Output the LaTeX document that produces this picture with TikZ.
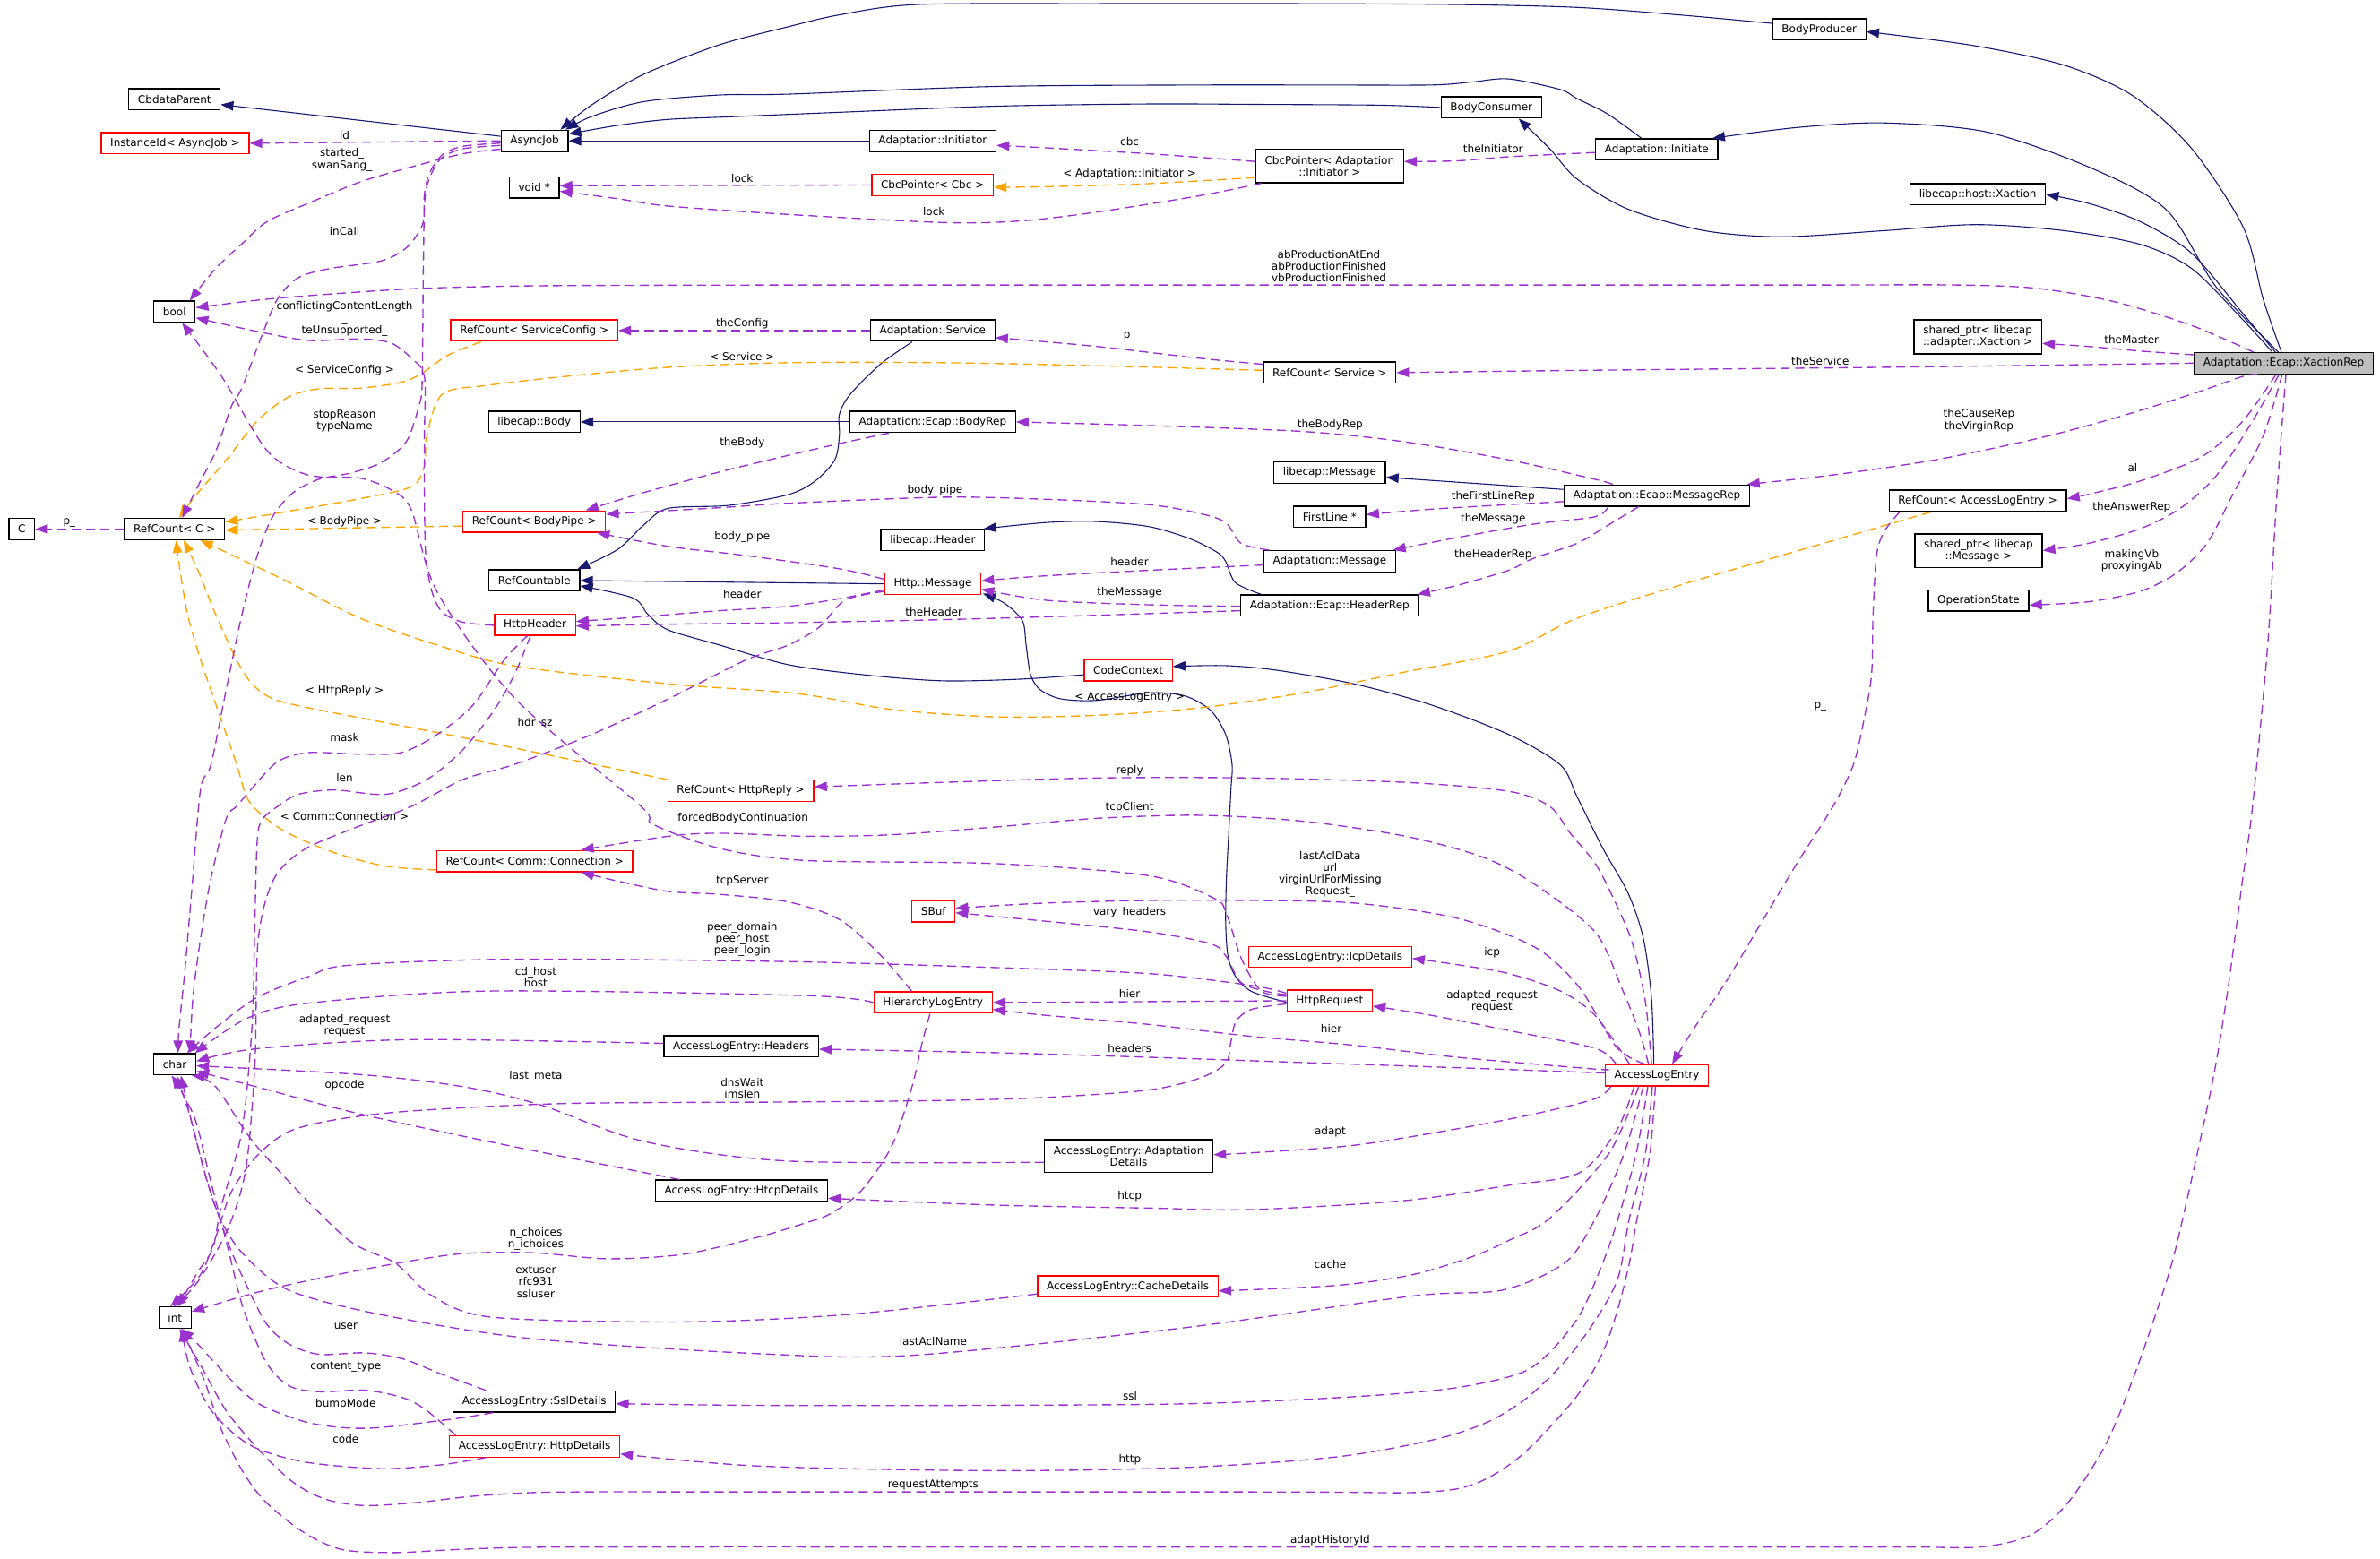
\documentclass[tikz,border=0pt]{standalone}
\usepackage{fontspec}
\setmainfont{DejaVu Sans}
\usetikzlibrary{arrows.meta}
\definecolor{navy}{HTML}{191970}
\definecolor{orchid}{HTML}{9A32CD}
\definecolor{tplorange}{HTML}{FFA500}
\definecolor{nodegray}{HTML}{BFBFBF}
\newcommand{\dxfont}{\fontsize{7.1}{7.8}\selectfont}
\tikzset{
  box/.style={draw=black, line width=0.75pt, fill=white, font=\dxfont, inner xsep=6pt, inner ysep=0pt, minimum height=14pt, align=center},
  rbox/.style={box, draw=red},
  gbox/.style={box, fill=nodegray},
  lbl/.style={font=\dxfont, inner sep=0pt, align=center},
  tipx/.style={-{Triangle[length=8.3pt,width=6.2pt]}},
  inhe/.style={draw=navy, line width=0.65pt, tipx},
  usg/.style={draw=orchid, line width=0.8pt, dash pattern=on 6pt off 3.5pt, tipx},
  tmpl/.style={draw=tplorange, line width=0.8pt, dash pattern=on 6pt off 3.5pt, tipx},
}
\begin{document}
\begin{tikzpicture}[x=1pt,y=-1pt]
\fill[white] (0,0) rectangle (1568,1027);
\useasboundingbox (0,0) rectangle (1568,1027);

% ---------------- nodes ----------------
\node[box] (BP) at (1198.6,19.4) {BodyProducer};
\node[box] (CDP) at (115,65.4) {CbdataParent};
\node[box] (AJ) at (352.2,92.8) {AsyncJob};
\node[rbox] (IID) at (115.4,94.4) {InstanceId< AsyncJob >};
\node[box] (BC) at (982.5,70.8) {BodyConsumer};
\node[box] (AIR) at (614.5,92.8) {Adaptation::Initiator};
\node[box] (AIE) at (1091.5,98.5) {Adaptation::Initiate};
\node[box,minimum height=22pt] (CPI) at (876,109.4) {CbcPointer< Adaptation\\::Initiator >};
\node[box] (VOID) at (352,123.4) {void *};
\node[rbox] (CPC) at (614.4,121.9) {CbcPointer< Cbc >};
\node[box] (LHX) at (1303,128.1) {libecap::host::Xaction};
\node[box] (BOOL) at (115,205.4) {bool};
\node[box,minimum height=22.5pt] (SPX) at (1303,222) {shared\_ptr< libecap\\::adapter::Xaction >};
\node[gbox] (XR) at (1504.5,239.3) {Adaptation::Ecap::XactionRep};
\node[rbox] (RSC) at (352,217.8) {RefCount< ServiceConfig >};
\node[box] (SVC) at (614.5,217.8) {Adaptation::Service};
\node[box] (RS) at (876,245.5) {RefCount< Service >};
\node[box] (LB) at (352,278) {libecap::Body};
\node[box] (BR) at (614.5,278) {Adaptation::Ecap::BodyRep};
\node[box] (LM) at (876,311.5) {libecap::Message};
\node[box] (MR) at (1091.5,326.5) {Adaptation::Ecap::MessageRep};
\node[box] (RALE) at (1303,330) {RefCount< AccessLogEntry >};
\node[box] (FL) at (876,340.6) {FirstLine *};
\node[box] (C) at (14.4,348.6) {C};
\node[box] (RC) at (115,348.6) {RefCount< C >};
\node[rbox] (RBP) at (352,343.6) {RefCount< BodyPipe >};
\node[box] (LH) at (614.5,355.8) {libecap::Header};
\node[box,minimum height=22pt] (SPM) at (1303.5,362.8) {shared\_ptr< libecap\\::Message >};
\node[box] (AM) at (876,369.8) {Adaptation::Message};
\node[box] (RCT) at (352,382.5) {RefCountable};
\node[rbox] (HM) at (614.6,384.7) {Http::Message};
\node[box] (OS) at (1303.5,395.7) {OperationState};
\node[rbox] (HH) at (352.5,411.5) {HttpHeader};
\node[box] (HREP) at (876,399) {Adaptation::Ecap::HeaderRep};
\node[rbox] (CC) at (743.3,441.6) {CodeContext};
\node[rbox] (RHR) at (488,521) {RefCount< HttpReply >};
\node[rbox] (RCC) at (352.3,567.4) {RefCount< Comm::Connection >};
\node[rbox] (SB) at (615,600.4) {SBuf};
\node[rbox] (ICP) at (876.3,630.5) {AccessLogEntry::IcpDetails};
\node[rbox] (HLE) at (614.7,660.6) {HierarchyLogEntry};
\node[rbox] (HRQ) at (876,659.4) {HttpRequest};
\node[box] (CH) at (115.2,701.3) {char};
\node[box] (HDS) at (488.3,689.5) {AccessLogEntry::Headers};
\node[rbox] (ALE) at (1091.6,708.5) {AccessLogEntry};
\node[box,minimum height=21.7pt] (AD) at (743.6,761.8) {AccessLogEntry::Adaptation\\Details};
\node[box] (HTCP) at (488.5,784.5) {AccessLogEntry::HtcpDetails};
\node[rbox] (CD) at (743,847.6) {AccessLogEntry::CacheDetails};
\node[box] (INT) at (115.3,868.2) {int};
\node[box] (SSL) at (352,923.4) {AccessLogEntry::SslDetails};
\node[rbox] (HD) at (352.2,953) {AccessLogEntry::HttpDetails};

% ---------------- inheritance ----------------
\draw[inhe] plot[smooth] coordinates {([xshift=-1.5pt]XR.north) (1491,197) (1478,150) (1444,98) (1405,63) (1360,43) (1300,30) ([yshift=-1.5pt]BP.east)};
\draw[inhe] plot[smooth] coordinates {([xshift=-3.5pt]XR.north) (1460,189) (1427,138) (1376,110) (1309,87) (1241,81) (1184,84) ([xshift=-4pt]AIE.north east)};
\draw[inhe] plot[smooth] coordinates {([xshift=-5.5pt]XR.north) (1478,207) (1444,167) (1410,146) (1376,134) (LHX.east)};
\draw[inhe] plot[smooth] coordinates {([xshift=-7.5pt]XR.north) (1477,210) (1444,177) (1410,161) (1360,152) (1302,148) (1241,152) (1174,156) (1123,152) (1073,138) (1039,118) (1021,98) ([xshift=18pt]BC.south)};
\draw[inhe] plot[smooth] coordinates {([yshift=4pt]BP.west) (1106,9.8) (1039,4.9) (960,3) (858,2.4) (722,2.4) (604,3) (553,9.8) (519,17.7) (474,29.5) (424,49) (390,69) ([xshift=17pt]AJ.north)};
\draw[inhe] plot[smooth] coordinates {([xshift=-10pt]AIE.north) (1059,75) (1039,65) (1028,59) (994,52) (970,54) (943,56) (870,56) (790,56) (655,57) (520,62) (474,62.6) (424,67) (390,76.7) ([xshift=-2pt]AJ.north east)};
\draw[inhe] plot[smooth] coordinates {(BC.west) (909,69.3) (830,68.8) (757,68.5) (655,70) (553,74) (480,77) (440,78.7) (407,82.6) ([yshift=4.5pt]AJ.east)};
\draw[inhe] (AIR.west) -- (AJ.east);
\draw[inhe] ([yshift=3pt]AJ.west) -- ([yshift=-3.5pt]CDP.east);
\draw[inhe] (BR.west) -- (LB.east);
\draw[inhe] plot[smooth] coordinates {([xshift=-13.5pt]SVC.south) (580,240) (560,260) (553,273) (553,287) (550,303) (537,317) (519,326) (480,333) (440,335) (424,346) (407,362) ([xshift=-2pt]RCT.north east)};
\draw[inhe] (HM.west) -- (RCT.east);
\draw[inhe] plot[smooth] coordinates {([yshift=-3pt]CC.west) (672,447.5) (621,448.6) (570,444.7) (519.5,438) (474,425) (440,415) (427,405) (417,394) ([yshift=-3.5pt]RCT.east)};
\draw[inhe] ([yshift=4pt]MR.west) -- ([yshift=-3pt]LM.east);
\draw[inhe] plot[smooth] coordinates {([xshift=-45pt]HREP.north) (814,384) (807.5,370) (802,364) (784,355) (757,347) (722,343.6) (689,344.3) ([xshift=-1pt]LH.north east)};
\draw[inhe] plot[smooth] coordinates {([yshift=-1pt]HRQ.west) (824.6,653.3) (814,643.4) (809,630) (807.5,608) (808,578.5) (809.5,549) (811,519.5) (811.7,503.6) (807.5,484) (797.5,468) (780.4,458.5) (756.8,456.5) (722.6,461.5) (699,460.5) (685.4,454.5) (679,444.7) (676,425) (673.6,409) (661.8,397.5) ([xshift=1pt,yshift=1pt]HM.south east)};
\draw[inhe] plot[smooth] coordinates {([xshift=-2pt]ALE.north) (1088,657) (1082.6,618) (1072.6,588.5) (1056,559) (1039,525) (1028,504) (994,484) (943,464.5) (892,450.6) (841,441.6) (807.5,438.6) ([yshift=2.5pt]CC.east)};

% ---------------- template (orange) ----------------
\draw[tmpl] plot[smooth] coordinates {([yshift=-7.6pt]CPI.west) (756.7,121) (689,123) ([yshift=-1.5pt]CPC.east)};
\draw[tmpl] plot[smooth] coordinates {([xshift=-35pt]RSC.south) (294.8,234.2) (277.9,246) (264.3,251.9) (237.2,255.8) (210,256.2) (189.8,261.7) (169.4,277.5) (149.1,303) (128.8,326.6) ([xshift=3pt]RC.north)};
\draw[tmpl] plot[smooth] coordinates {([yshift=1.5pt]RS.west) (722.8,241) (621.1,239) (519.5,239) (440.5,242) (372.7,248) (321.9,253.8) (291.4,259.7) (281.2,287.3) (279.6,307) (271,320.7) (237.2,328.6) (186.4,337.5) ([yshift=4.6pt]RC.east)};
\draw[tmpl] ([yshift=-3pt]RBP.west) -- ([yshift=-0.7pt]RC.east);
\draw[tmpl] plot[smooth] coordinates {([xshift=-31pt]RALE.south) (1241.4,346.3) (1173.9,366) (1106.4,385.7) (1039,407.3) (993.9,429) (926,442.7) (858.3,456.5) (790.6,466.4) (722.8,471.3) (655,472.3) (587.3,467.4) (525,457) (440.5,450.6) (338.8,438.8) (288,425) (237.2,407.3) (186.4,381.7) ([xshift=17pt]RC.south)};
\draw[tmpl] plot[smooth] coordinates {(RHR.north west) (372.7,499.8) (305,486) (254.1,476.2) (203.3,466.4) (179.6,460.4) (166,450.6) (155.9,434.9) (142.3,405.4) (130.4,375.8) ([xshift=6pt]RC.south)};
\draw[tmpl] plot[smooth] coordinates {([yshift=-5.8pt]RCC.west) (254.1,570.7) (220.2,561.8) (189.8,549) (172.8,537.2) (162.6,525.4) (155.9,503.7) (142.3,464.4) (132.2,434.9) (123.7,405.4) (118.6,375.8) ([xshift=1pt]RC.south)};

% ---------------- usage (purple) ----------------
\draw[usg] (AJ.west) -- (IID.east);
\draw[usg] plot[smooth] coordinates {([yshift=-5.5pt]AJ.west) (305,101.3) (271,110) (237,120) (203,134) (176,146) (159,161) (142,177) ([xshift=10pt]BOOL.north)};
\draw[usg] plot[smooth] coordinates {([yshift=-1.5pt]AJ.west) (305,96.4) (291.4,102) (283,114) (279.6,128) (278.5,147.6) (267.7,163.3) (250.8,172) (216.9,177) (196.5,183) (183,196.7) (172.8,220.4) (159.3,255.8) (152.5,267.6) (142.3,297) (132.2,316.8) ([xshift=5pt]RC.north)};
\draw[usg] plot[smooth] coordinates {([yshift=-3pt]AJ.west) (305,98) (291,104) (284,115) (280,130) (279,170) (278.5,220) (278,255.8) (276,267.6) (267.7,291) (250.8,305) (230.5,311.8) (210,315.8) (193,324.7) (179.6,340.4) (169.5,366) (159.3,405.4) (149,454.5) (139,503.7) (132.2,519.5) (127,578.5) (122,637.5) (118,677) ([xshift=2pt]CH.north)};
\draw[usg] plot[smooth] coordinates {([yshift=-0.5pt]HH.west) (305,410) (291.4,403.4) (284.5,389.6) (280.5,366) (279.6,326.6) (279.6,287.3) (279.6,248) (271,236) (257.5,226) (237,223.3) (203.3,224.3) (169.4,218.4) ([yshift=-4pt]BOOL.east)};
\draw[usg] plot[smooth] coordinates {([xshift=-20pt]XR.north) (1444,214.5) (1393,198.8) (1342,190) (1290,187.8) (1200,187.8) (1100,187.8) (900,187.8) (700,187.8) (531,187.8) (420,188) (339,188.5) (271,190.3) (203.3,194.8) (169.4,197.8) ([yshift=2.7pt]BOOL.east)};
\draw[usg] plot[smooth] coordinates {([yshift=5.5pt]XR.west) (1410,231.3) (1376,228.3) ([yshift=-4.3pt]SPX.east)};
\draw[usg] plot[smooth] coordinates {(XR.west) (1241.6,242) (1045,244) (RS.east)};
\draw[usg] plot[smooth] coordinates {([xshift=-17pt]XR.south) (1477.6,248) (1444,259.7) (1393,275.5) (1342,289) (1275,303) (1208,312.9) ([xshift=-2pt]MR.north east)};
\draw[usg] plot[smooth] coordinates {([xshift=-5pt]XR.south) (1477.6,277.5) (1450.4,301) (1410.3,316.8) (1376,325.7) ([yshift=1.4pt]RALE.east)};
\draw[usg] plot[smooth] coordinates {([xshift=-3pt]XR.south) (1484,277.5) (1460.5,313) (1437,334.5) (1410.3,348.3) (1376,358) (SPM.east)};
\draw[usg] plot[smooth] coordinates {([xshift=-1pt]XR.south) (1491,287.3) (1470.6,326.6) (1454,358) (1433.6,377.8) (1410,389.6) (1376,396.5) ([yshift=-3pt]OS.east)};
\draw[usg] plot[smooth] coordinates {([xshift=1.5pt]XR.south) (1500,326.6) (1494,425) (1484,531.3) (1477.6,578.5) (1467,657) (1457,716) (1438,803) (1428,842) (1408,901) (1388,950.4) (1362.5,990) (1337.6,1011.5) (1305,1019.3) (1260,1019.3) (1180,1019.3) (1050,1019.3) (900,1019.3) (750,1019.3) (600,1019.3) (450,1019.3) (350,1019.5) (300.4,1021) (260.3,1023) (225.3,1021) (200,1009.6) (175.2,989.8) (160.2,970) (145.2,940.5) (135.2,911) (125.2,887.4) ([xshift=5pt]INT.south)};
\draw[usg] plot[smooth] coordinates {([xshift=-1pt]ALE.south) (1087,760) (1078.5,803) (1073.5,832) (1066,862) (1056,891) (1041,917) (1021,940.5) (1000.6,960.4) (980,974) (960,981) (930,983.5) (880,983.2) (800,983) (700,983) (580,983) (460,983) (390,983) (350,983.5) (310,986) (275,990) (240,992) (215,988) (195,978) (175,960) (150,931) (133,901) ([xshift=3pt]INT.south)};
\draw[usg] plot[smooth] coordinates {([xshift=-3pt]ALE.south) (1084,760) (1073.4,803) (1066,842) (1051,870) (1031,897) (1006,921) (980,937) (945,948.5) (880,960) (779,967) (651,969) (500,966) ([yshift=-5pt]HD.east)};
\draw[usg] plot[smooth] coordinates {([xshift=-6pt]ALE.south) (1078,760) (1066,803) (1056,832) (1041,866) (1021,891) (1001,905) (955,915) (880,921) (779,925) (640,926) (500,926) ([yshift=-1.5pt]SSL.east)};
\draw[usg] plot[smooth] coordinates {([xshift=-9pt]ALE.south) (1070,760) (1051,803) (1031,832) (990,850) (930,854) (779,875) (601,893) (501,892) (350,882) (250,866) (190,850) (160,826) (145,803) (135.6,775.3) (125.4,736) ([xshift=4pt]CH.south)};
\draw[usg] plot[smooth] coordinates {([xshift=-12pt]ALE.south) (1060,760) (1020.7,803) (995.5,816.6) (970,828) (930,840) (880,847) ([yshift=-3pt]CD.east)};
\draw[usg] plot[smooth] coordinates {([xshift=-15pt]ALE.south) (1065,745) (1040,773) (994,781) (926,791) (824.4,797) (756.7,796) (655,794) ([yshift=-5pt]HTCP.east)};
\draw[usg] plot[smooth] coordinates {([xshift=4pt]ALE.south west) (1050.8,724) (1010.8,734) (959.8,743.8) (892.2,754.6) (824.4,759.6) ([yshift=1pt]AD.east)};
\draw[usg] plot[smooth] coordinates {([yshift=1.5pt]ALE.west) (960,703.5) (858.4,700.1) (756.7,696.6) (655,693.6) ([yshift=-1.8pt]HDS.east)};
\draw[usg] plot[smooth] coordinates {([yshift=4pt]ALE.west) (1050.8,704.4) (960,696.6) (892,688.7) (824,682.8) (757,675) (689,669) ([yshift=-4.5pt]HLE.east)};
\draw[usg] (HRQ.west) -- (HLE.east);
\draw[usg] plot[smooth] coordinates {([xshift=-27pt]ALE.north) (1050.8,690.7) (994,679) (943,669) ([yshift=-3.5pt]HRQ.east)};
\draw[usg] plot[smooth] coordinates {([xshift=-18pt]ALE.north) (1050.8,669) (1028,653) (994,641.5) (960,635.6) ([yshift=-1pt]ICP.east)};
\draw[usg] plot[smooth] coordinates {([xshift=-8pt]ALE.north) (1065,690) (1040,650) (1011,624) (960,605) (892,595) (824,593.3) (757,593.3) (689,595) ([yshift=2pt]SB.east)};
\draw[usg] plot[smooth] coordinates {([xshift=-5.5pt]ALE.north) (1080,680) (1068,650) (1050.8,614) (1010.8,582.5) (977,564.8) (926,551) (858.3,541.1) (790.6,537.2) (722.8,539.2) (655,545) (587.3,550) (531.3,551) (474.4,549) (440.5,551) ([xshift=30.6pt]RCC.north)};
\draw[usg] plot[smooth] coordinates {([xshift=-3.5pt]ALE.north) (1084,660) (1075,620) (1062,590) (1050.8,568.7) (1034.5,549) (1021,531.3) (993.9,521.4) (926,515.5) (824.4,512.6) (722.8,512.6) (621.1,515.5) ([yshift=2.5pt]RHR.east)};
\draw[usg] plot[smooth] coordinates {([xshift=-51.5pt]RALE.south) (1241.3,350.3) (1236.3,366) (1234,405.4) (1233,444.7) (1228,474.2) (1221.1,503.7) (1207.6,531.3) (1184,568.7) (1160.4,608) (1136.8,647.4) (1116.5,676.9) ([xshift=10pt]ALE.north)};
\draw[usg] plot[smooth] coordinates {([xshift=-29pt]MR.north) (1050.8,315.8) (993.9,303) (926,291.2) (858.3,284.3) (756.7,280.4) (BR.east)};
\draw[usg] plot[smooth] coordinates {([yshift=-4pt]MR.west) (993.9,332.5) (943,335.5) ([yshift=1.5pt]FL.east)};
\draw[usg] plot[smooth] coordinates {([xshift=-32pt]MR.south) (1050.8,340.5) (1010.8,345.3) (960,354.2) ([xshift=-2pt]AM.north east)};
\draw[usg] plot[smooth] coordinates {([xshift=-12pt]MR.south) (1059,346.3) (1039,358) (1010,368) (993.9,375.8) (960,385.7) ([xshift=-1pt]HREP.north east)};
\draw[usg] plot[smooth] coordinates {([xshift=-40pt]AM.north) (817.6,358) (807.5,344.3) (790.6,338.4) (756.7,332.5) (689,329) (621.1,327.6) (519.5,331.6) (474.4,334.5) ([yshift=4.8pt]RBP.east)};
\draw[usg] plot[smooth] coordinates {([yshift=3pt]HM.west) (553,374.8) (491,366) (440,360) ([xshift=-6pt]RBP.south east)};
\draw[usg] plot[smooth] coordinates {([xshift=-29pt]BR.south) (553.4,292.2) (519.5,300) (474.4,310.9) (423.6,324.7) ([xshift=34pt]RBP.north)};
\draw[usg] plot[smooth] coordinates {([yshift=-4pt]HM.west) (553,394.5) (519.5,399.5) (474,402.4) (424,406.3) ([yshift=2pt]HH.east)};
\draw[usg] plot[smooth] coordinates {([yshift=-3.4pt]HREP.west) (722.8,405.4) (621.1,408.3) (519.5,410.3) (440.5,411.3) ([yshift=-1pt]HH.east)};
\draw[usg] plot[smooth] coordinates {([yshift=-0.5pt]HREP.west) (756.7,398.5) (689,395.5) ([yshift=-3.5pt]HM.east)};
\draw[usg] plot[smooth] coordinates {([yshift=-2.5pt]AM.west) (756.7,375.8) (689,379.4) ([yshift=2pt]HM.east)};
\draw[usg] plot[smooth] coordinates {([yshift=3pt]CPI.west) (756.7,101.3) (689,97.4) ([yshift=-3pt]AIR.east)};
\draw[usg] plot[smooth] coordinates {([xshift=-45pt]CPI.south) (790.6,128.9) (722.8,139.7) (672,145.6) (621.1,146.6) (519.5,141.3) (440.5,135.8) (406.7,130.9) ([yshift=-2.6pt]VOID.east)};
\draw[usg] (CPC.west) -- ([yshift=1pt]VOID.east);
\draw[usg] plot[smooth] coordinates {([yshift=-2pt]AIE.west) (993.9,103.3) (960,106) ([yshift=3pt]CPI.east)};
\draw[usg] (SVC.west) -- (RSC.east);
\draw[usg] plot[smooth] coordinates {([yshift=5.5pt]RS.west) (790.6,236.1) (722.8,228.3) ([yshift=-4.6pt]SVC.east)};
\draw[usg] (RC.west) -- (C.east);
\draw[usg] plot[smooth] coordinates {([xshift=-5pt]HH.south) (332.1,434.9) (311.8,464.4) (288,484) (264.3,495.9) (237.2,496.9) (203.3,495.9) (183,501.8) (166,519.5) (155.9,531.3) (149.1,539.2) (139,578.5) (132.2,617.9) (127.1,657.2) ([xshift=10pt]CH.north)};
\draw[usg] plot[smooth] coordinates {([xshift=-3pt]HH.south) (338.8,444.7) (325.3,468.3) (305,493.9) (281.2,513.6) (254.1,523.4) (220.3,520.5) (196.5,523.4) (183,531.3) (172.8,540) (169.4,555) (167.7,617.9) (166,677) (159.3,745.8) (145.7,795) (140.2,822.5) (130.2,838.3) ([xshift=2pt]INT.north)};
\draw[usg] plot[smooth] coordinates {([yshift=-5pt]HM.west) (556.7,395.5) (539.8,413.2) (519.5,425) (491.3,434.9) (440.5,460.4) (389.7,484) (338.8,503.7) (305,513.6) (271.1,531.3) (235,545) (200,560) (180,580) (170,620) (168,700) (162,770) (150,810) (130,845) ([xshift=-1pt]INT.north)};
\draw[usg] plot[smooth] coordinates {([xshift=-2pt]HLE.south) (607.6,686.7) (600.8,716.2) (587.3,755.6) (566.9,785.1) (546.6,800) (530,806) (500,815) (450.5,826.4) (400.5,829.4) (350.4,825.4) (300.4,826.4) (240.3,836.3) (175.2,850) ([yshift=4pt]INT.east)};
\draw[usg] plot[smooth] coordinates {([yshift=-5pt]CD.west) (560,866) (451,871) (325,868) (285,854) (260,832) (227,815) (169.4,755.6) (142.3,716.2) ([xshift=-3pt]CH.south east)};
\draw[usg] plot[smooth] coordinates {([xshift=-32pt]SSL.north) (290.3,905.2) (265.3,895.3) (240.3,891.4) (210.3,892.4) (190.2,885.5) (175.2,871.7) (160.2,842.2) (150.2,818.6) (135.6,775.3) (125.4,736) ([xshift=1pt]CH.south)};
\draw[usg] plot[smooth] coordinates {([xshift=-52pt]HD.north) (280.3,928.8) (265.3,920.9) (240.3,916) (210.3,917) (190.2,913) (175.2,897.3) (160.2,861.9) (150.2,822.5) (138,775) (128,736) ([xshift=-2pt]CH.south)};
\draw[usg] plot[smooth] coordinates {([xshift=-27pt]SSL.south) (300.4,934.7) (250.3,940.6) (225.3,940.6) (200.2,936.6) (170.2,924.8) (150.2,907.2) (130.2,885.5) ([xshift=4pt]INT.south)};
\draw[usg] plot[smooth] coordinates {([xshift=-32pt]HD.south) (290.3,965.2) (250.3,967.7) (200.2,963.2) (165.2,952.4) (140.2,930.7) (125.2,901.2) ([xshift=4.5pt]INT.south)};
\draw[usg] plot[smooth] coordinates {([xshift=-41pt]HTCP.north) (338.8,755.6) (237.2,734) (169.4,716.2) ([yshift=-4.5pt]CH.east)};
\draw[usg] plot[smooth] coordinates {([yshift=-4pt]AD.west) (519,765) (424,752) (356,728) (305,716) (237,708) ([yshift=-1pt]CH.east)};
\draw[usg] plot[smooth] coordinates {([yshift=2pt]HDS.west) (271,685) (169,691) ([yshift=2pt]CH.east)};
\draw[usg] plot[smooth] coordinates {(HLE.west) (531,656) (322,653) (203,661) (162.6,671) ([xshift=-1pt]CH.north east)};
\draw[usg] plot[smooth] coordinates {([yshift=5pt]HRQ.west) (824.4,649.3) (756.7,641.5) (655,637.5) (519.5,633.6) (339,632) (230,636) (203.3,643.4) (169.4,657.2) (142.3,677) ([xshift=8pt]CH.north)};
\draw[usg] plot[smooth] coordinates {([xshift=-14pt]HLE.north) (580.5,629.7) (553.4,606.1) (519.5,594.3) (474.4,589.3) (440.5,587.4) (406.6,580.5) ([xshift=30.6pt]RCC.south)};
\draw[usg] plot[smooth] coordinates {([yshift=3pt]HRQ.west) (831,653) (818,632) (808,602) (800,592) (757,577) (655,569) (531,567) (474,559) (430,543) (422,531) (339,460) (288,390) (271,336) (258,323) (237,315) (203,313) (176,297) (146,248) ([xshift=5pt]BOOL.south)};
\draw[usg] plot[smooth] coordinates {([yshift=4pt]HRQ.west) (834.7,653.3) (817.6,647.4) (807.5,629.7) (797.3,621.8) (756.7,614) (689,607) ([yshift=-1pt]SB.east)};
\draw[usg] plot[smooth] coordinates {([yshift=-2pt]HRQ.west) (824.4,665.1) (814.3,673) (810.9,686.7) (807.5,700.5) (790.6,710.3) (756.7,718.2) (689,723.1) (621.1,725.1) (519.5,726.1) (372.7,727.1) (271.1,732) (220.3,737.9) (189.8,745.8) (169.4,761.5) (152.5,785.1) (142.3,814.6) (132,840) ([xshift=-3pt]INT.north)};

% ---------------- labels ----------------
\node[lbl] (L1) at (227,89) {id};
\node[lbl] (L2) at (225.3,105.25) {started\_\\swanSang\_};
\node[lbl] (L3) at (227,152.5) {inCall};
\node[lbl] (L4) at (227,210.2) {conflictingContentLength\\\_\\teUnsupported\_};
\node[lbl] (L5) at (227,244) {< ServiceConfig >};
\node[lbl] (L6) at (227,277.5) {stopReason\\typeName};
\node[lbl] (L7) at (227,343.6) {< BodyPipe >};
\node[lbl] (L8) at (45.7,344.3) {p\_};
\node[lbl] (L9) at (227,455.5) {< HttpReply >};
\node[lbl] (L10) at (227,485.6) {mask};
\node[lbl] (L11) at (352.4,476.6) {hdr\_sz};
\node[lbl] (L12) at (227,512.2) {len};
\node[lbl] (L13) at (227,537.6) {< Comm::Connection >};
\node[lbl] (L14) at (489.5,539.2) {forcedBodyContinuation};
\node[lbl] (L15) at (744.2,507.7) {reply};
\node[lbl] (L16) at (744.2,532.3) {tcpClient};
\node[lbl] (L17) at (489,580.5) {tcpServer};
\node[lbl] (L18) at (876.3,576.1) {lastAclData\\url\\virginUrlForMissing\\Request\_};
\node[lbl] (L19) at (744.2,601.1) {vary\_headers};
\node[lbl] (L20) at (489,618.8) {peer\_domain\\peer\_host\\peer\_login};
\node[lbl] (L21) at (353,643.7) {cd\_host\\host};
\node[lbl] (L22) at (983,627.7) {icp};
\node[lbl] (L23) at (744.2,654.7) {hier};
\node[lbl] (L24) at (983,659.6) {adapted\_request\\request};
\node[lbl] (L25) at (877,677.5) {hier};
\node[lbl] (L26) at (227,676) {adapted\_request\\request};
\node[lbl] (L27) at (744.2,691) {headers};
\node[lbl] (L28) at (353,709.4) {last\_meta};
\node[lbl] (L29) at (227,715.3) {opcode};
\node[lbl] (L30) at (489,717) {dnsWait\\imslen};
\node[lbl] (L31) at (876.3,745.8) {adapt};
\node[lbl] (L32) at (744.2,788.5) {htcp};
\node[lbl] (L33) at (353,816.2) {n\_choices\\n\_ichoices};
\node[lbl] (L34) at (876.3,832.8) {cache};
\node[lbl] (L35) at (353,844.6) {extuser\\rfc931\\ssluser};
\node[lbl] (L36) at (227.8,873.7) {user};
\node[lbl] (L37) at (614.8,883.9) {lastAclName};
\node[lbl] (L38) at (227.8,900.8) {content\_type};
\node[lbl] (L39) at (744.4,919.5) {ssl};
\node[lbl] (L40) at (227.8,925.4) {bumpMode};
\node[lbl] (L41) at (227.8,948) {code};
\node[lbl] (L42) at (744.4,961.8) {http};
\node[lbl] (L43) at (614.8,978.6) {requestAttempts};
\node[lbl] (L44) at (876.3,1014.8) {adaptHistoryId};
\node[lbl] (L45) at (489,117.7) {lock};
\node[lbl] (L46) at (615.3,139.1) {lock};
\node[lbl] (L47) at (744.2,93) {cbc};
\node[lbl] (L48) at (744.2,114.7) {< Adaptation::Initiator >};
\node[lbl] (L49) at (983.7,97.8) {theInitiator};
\node[lbl] (L50) at (875.5,175.3) {abProductionAtEnd\\abProductionFinished\\vbProductionFinished};
\node[lbl] (L51) at (489,213.5) {theConfig};
\node[lbl] (L52) at (744.2,222) {p\_};
\node[lbl] (L53) at (489,234.8) {< Service >};
\node[lbl] (L54) at (1404.3,223.9) {theMaster};
\node[lbl] (L55) at (1199.2,237.7) {theService};
\node[lbl] (L56) at (489,291.6) {theBody};
\node[lbl] (L57) at (876.3,280.2) {theBodyRep};
\node[lbl] (L58) at (1303.8,277) {theCauseRep\\theVirginRep};
\node[lbl] (L59) at (616,323.3) {body\_pipe};
\node[lbl] (L60) at (489,353.6) {body\_pipe};
\node[lbl] (L61) at (983.7,327.4) {theFirstLineRep};
\node[lbl] (L62) at (983.7,342.2) {theMessage};
\node[lbl] (L63) at (744.2,369.9) {header};
\node[lbl] (L64) at (983.7,365.8) {theHeaderRep};
\node[lbl] (L65) at (489,391.2) {header};
\node[lbl] (L66) at (744.2,390.6) {theMessage};
\node[lbl] (L67) at (615.3,403.4) {theHeader};
\node[lbl] (L68) at (744.2,459.5) {< AccessLogEntry >};
\node[lbl] (L69) at (1405,308) {al};
\node[lbl] (L70) at (1404.4,334.5) {theAnswerRep};
\node[lbl] (L71) at (1404.4,369.4) {makingVb\\proxyingAb};
\node[lbl] (L72) at (1199.2,465.4) {p\_};
\end{tikzpicture}
\end{document}
